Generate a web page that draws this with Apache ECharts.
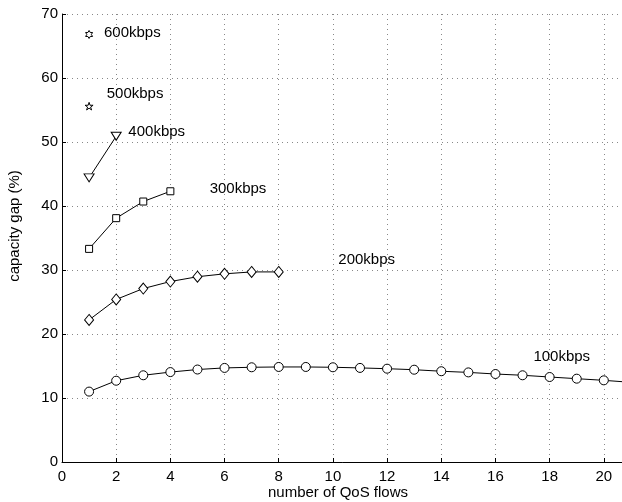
<!DOCTYPE html>
<html>
<head>
<meta charset="utf-8">
<script src="https://cdn.jsdelivr.net/npm/echarts@6/dist/echarts.min.js"></script>
<style>
  html, body { margin: 0; padding: 0; background: #fff; }
  #chart { width: 622px; height: 502px; }
</style>
</head>
<body>
<div id="chart"></div>
<script>
// values
var flows100 = [1, 2, 3, 4, 5, 6, 7, 8, 9, 10, 11, 12, 13, 14, 15, 16, 17, 18, 19, 20, 21]
var gap100 = [11.0, 12.7, 13.55, 14.05, 14.45, 14.7, 14.8, 14.85, 14.85, 14.8, 14.7, 14.58, 14.42, 14.18, 14.0, 13.75, 13.55, 13.28, 13.02, 12.76, 12.45]
var flows200 = [1, 2, 3, 4, 5, 6, 7, 8]
var gap200 = [22.2, 25.4, 27.1, 28.2, 28.95, 29.4, 29.7, 29.7]
var flows300 = [1, 2, 3, 4]
var gap300 = [33.3, 38.1, 40.7, 42.3]
var flows400 = [1, 2]
var gap400 = [44.4, 50.9]
var flows500 = [1]
var gap500 = [55.6]
var flows600 = [1]
var gap600 = [66.8]

// rate labels and where they sit (data coords)
var labelText = ['100kbps', '200kbps', '300kbps', '400kbps', '500kbps', '600kbps']
var labelX = [17.4, 10.2, 5.45, 2.45, 1.65, 1.55]
var labelY = [16.5, 31.6, 42.7, 51.6, 57.5, 67.1]

var FONT = 'Liberation Sans, Arial, Helvetica, sans-serif'
var STAR5 = 'path://M0,-10 L2.245,-3.09 L9.511,-3.09 L3.633,1.18 L5.878,8.09 L0,3.82 L-5.878,8.09 L-3.633,1.18 L-9.511,-3.09 L-2.245,-3.09 Z'
var STAR6 = 'path://M0,-10 L2.887,-5 L8.66,-5 L5.774,0 L8.66,5 L2.887,5 L0,10 L-2.887,5 L-8.66,5 L-5.774,0 L-8.66,-5 L-2.887,-5 Z'

function pairs(xs, ys) {
    return xs.map(function (x, i) { return [x, ys[i]] })
}

function lineSeries(name, xs, ys, symbol, size, rotate) {
    return {
        name: name,
        type: 'line',
        data: pairs(xs, ys),
        symbol: symbol,
        symbolSize: size,
        symbolRotate: rotate || 0,
        symbolKeepAspect: true,
        showAllSymbol: true,
        clip: false,
        animation: false,
        lineStyle: {color: '#000', width: 1},
        itemStyle: {color: '#fff', borderColor: '#000', borderWidth: 1}
    }
}

var chart = echarts.init(document.getElementById('chart'))
chart.setOption({
    backgroundColor: '#fff',
    animation: false,
    textStyle: {fontFamily: FONT},
    // plot runs past the right edge of the picture (cropped at about x = 20.7)
    grid: {left: 62, top: 14, width: 596, height: 448, containLabel: false, outerBoundsMode: 'none'},
    xAxis: {
        type: 'value',
        min: 0,
        max: 22,
        interval: 2,
        axisLine: {lineStyle: {color: '#000', width: 1}},
        axisTick: {inside: true, length: 4, lineStyle: {color: '#000'}},
        axisLabel: {color: '#000', fontSize: 15, margin: 7, fontFamily: FONT},
        splitLine: {show: true, lineStyle: {color: '#888', type: [1, 4], width: 1}}
    },
    yAxis: {
        type: 'value',
        min: 0,
        max: 70,
        interval: 10,
        axisLine: {show: true, lineStyle: {color: '#000', width: 1}},
        axisTick: {show: true, inside: true, length: 4, lineStyle: {color: '#000'}},
        axisLabel: {color: '#000', fontSize: 15, margin: 4, fontFamily: FONT},
        splitLine: {show: true, lineStyle: {color: '#888', type: [1, 4], width: 1}}
    },
    graphic: [
        {
            type: 'text',
            x: 338,
            y: 493,
            style: {text: 'number of QoS flows', fill: '#000', font: '15px ' + FONT, textAlign: 'center', textVerticalAlign: 'middle'}
        },
        {
            type: 'text',
            x: 15,
            y: 226,
            rotation: Math.PI / 2,
            style: {text: 'capacity gap (%)', fill: '#000', font: '15px ' + FONT, textAlign: 'center', textVerticalAlign: 'middle'}
        }
    ],
    series: [
        lineSeries('100kbps', flows100, gap100, 'circle', 9),
        lineSeries('200kbps', flows200, gap200, 'diamond', [9, 11]),
        lineSeries('300kbps', flows300, gap300, 'rect', 7),
        lineSeries('400kbps', flows400, gap400, 'triangle', [10, 8], 180),
        lineSeries('500kbps', flows500, gap500, STAR5, 8),
        lineSeries('600kbps', flows600, gap600, STAR6, 8),
        {
            name: 'labels',
            type: 'scatter',
            symbolSize: 0,
            silent: true,
            itemStyle: {color: '#000', opacity: 1},
            data: labelText.map(function (t, i) { return {name: t, value: [labelX[i], labelY[i]]} }),
            label: {
                show: true,
                position: 'right',
                distance: 0,
                formatter: '{b}',
                color: '#000',
                opacity: 1,
                textBorderWidth: 0,
                fontSize: 15,
                fontFamily: FONT
            }
        }
    ]
})
</script>
</body>
</html>
